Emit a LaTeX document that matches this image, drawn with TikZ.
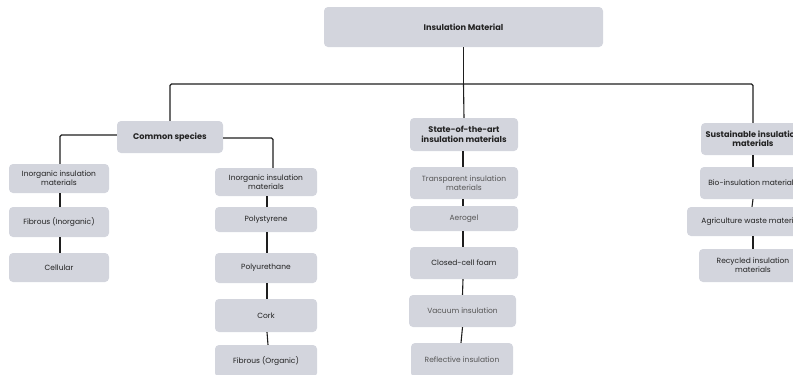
\documentclass[tikz,border=0pt]{standalone}
\usepackage{fontspec}
\setmainfont{Poppins}
\definecolor{boxfill}{HTML}{D3D5DD}
\definecolor{linec}{HTML}{1E1E1E}
\definecolor{txt}{HTML}{222222}
\definecolor{txtg}{HTML}{555555}
\tikzset{
  box/.style={rectangle, rounded corners=4pt, fill=boxfill, draw=none, inner sep=0pt,
    align=center, text=txt, font=\fontsize{7.5}{9}\selectfont},
  boldbox/.style={box, font=\fontsize{8.2}{9.4}\selectfont\bfseries},
  greybox/.style={box, text=txtg},
  conn/.style={draw=linec, line width=1.1pt, rounded corners=1.5pt},
}
\begin{document}
\begin{tikzpicture}[x=1pt,y=-1pt]
\useasboundingbox (0,0) rectangle (793,375);
\clip (0,0) rectangle (793,375);
% top
\node[boldbox, minimum width=279, minimum height=40] (top) at (463.5,27) {Insulation Material};
\coordinate (j) at (463.5,84);
% level 1
\node[boldbox, minimum width=106, minimum height=32] (cs) at (170,137) {Common species};
\node[boldbox, minimum width=108, minimum height=33] (s0) at (464,134.5) {State-of-the-art\\insulation materials};
\node[boldbox, minimum width=104, minimum height=32] (u0) at (753,139) {Sustainable insulation\\materials};
% left column
\node[box, minimum width=100, minimum height=29] (l1) at (59,178.5) {Inorganic insulation\\materials};
\node[box, minimum width=100, minimum height=30] (l2) at (59,222) {Fibrous (Inorganic)};
\node[box, minimum width=100, minimum height=29] (l3) at (59,267.5) {Cellular};
% second column
\node[box, minimum width=102, minimum height=28] (r1) at (266,182) {Inorganic insulation\\materials};
\node[box, minimum width=102, minimum height=25] (r2) at (266,219.5) {Polystyrene};
\node[box, minimum width=102, minimum height=30] (r3) at (266,268) {Polyurethane};
\node[box, minimum width=102, minimum height=33] (r4) at (266,315.5) {Cork};
\node[box, minimum width=102, minimum height=32] (r5) at (266,361) {Fibrous (Organic)};
% third column
\node[greybox, minimum width=108, minimum height=32] (s1) at (464,183) {Transparent insulation\\materials};
\node[greybox, minimum width=108, minimum height=25] (s2) at (464,218.5) {Aerogel};
\node[box, minimum width=108, minimum height=32] (s3) at (464,263) {Closed-cell foam};
\node[greybox, minimum width=107, minimum height=32] (s4) at (462.5,311) {Vacuum insulation};
\node[greybox, minimum width=102, minimum height=34] (s5) at (462,360) {Reflective insulation};
% fourth column
\node[box, minimum width=106, minimum height=32] (u1) at (753,183) {Bio-insulation materials};
\node[box, minimum width=132, minimum height=29] (u2) at (753,221.5) {Agriculture waste materials};
\node[box, minimum width=108, minimum height=33] (u3) at (753,265.5) {Recycled insulation\\materials};
% connectors
\draw[conn] (top.south) -- (j);
\draw[conn] (cs.north) -- (cs.north |- j) -- (u0.north |- j) -- (u0.north);
\draw[conn] (j) -- (s0.north);
\draw[conn] ([yshift=2pt]cs.west) -| ([xshift=1pt]l1.north);
\draw[conn] ([yshift=-1pt]cs.east) -| ([xshift=7pt]r1.north);
\draw[conn] ([xshift=1pt]l1.south) -- ([xshift=1pt]l2.north);
\draw[conn] ([xshift=1pt]l2.south) -- ([xshift=1pt]l3.north);
\draw[conn] ([xshift=1pt]r1.south) -- ([xshift=1pt]r2.north);
\draw[conn] ([xshift=1pt]r2.south) -- ([xshift=1pt]r3.north);
\draw[conn] ([xshift=1pt]r3.south) -- ([xshift=1pt]r4.north);
\draw[conn] ([xshift=1pt]r4.south) -- ([xshift=2pt]r5.north);
\draw[conn] ([xshift=-1pt]s0.south) -- ([xshift=-1pt]s1.north);
\draw[conn] ([xshift=-1pt]s1.south) -- ([xshift=-1pt]s2.north);
\draw[conn] ([xshift=-1pt]s2.south) -- ([xshift=-1pt]s3.north);
\draw[conn] ([xshift=-1pt]s3.south) -- (s4.north);
\draw[conn] (s4.south) -- ([xshift=-1pt]s5.north);
\draw[conn] (u0.south) -- (u1.north);
\draw[conn] (u1.south) -- ([xshift=-1pt]u2.north);
\draw[conn] (u2.south) -- (u3.north);
\end{tikzpicture}
\end{document}
